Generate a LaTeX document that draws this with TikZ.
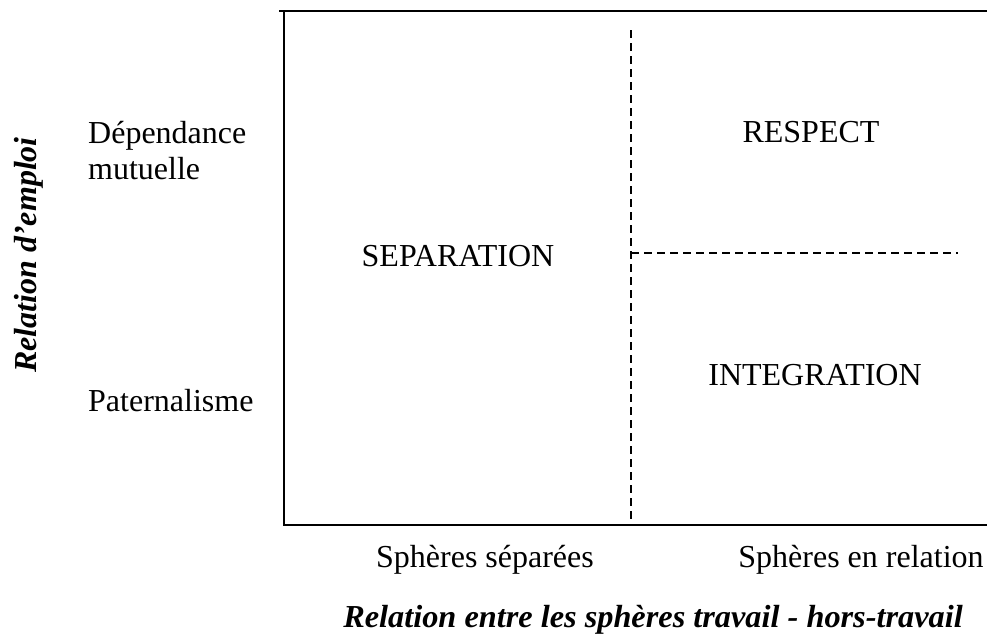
\documentclass[tikz,border=0pt]{standalone}
\usepackage{fontspec}
\setmainfont{Liberation Serif}
\begin{document}
\begin{tikzpicture}[x=1pt,y=-1pt,
  lab/.style={anchor=base,inner sep=0pt,font=\fontsize{32}{38}\selectfont},
  axis/.style={line width=2.2pt},
  divider/.style={line width=1.6pt,dash pattern=on 8pt off 5pt}]
\useasboundingbox (0,0) rectangle (987,633);
% frame
\coordinate (tl0) at (279,11);
\coordinate (tr) at (987,11);
\coordinate (tl) at (284,11);
\coordinate (bl) at (284,525);
\coordinate (br) at (987,525);
\coordinate (vt) at (631,30);
\coordinate (vb) at (631,525);
\coordinate (hm) at (631,253);
\coordinate (hr) at (958,253);
\draw[axis] (tl0) -- (tr);
\draw[axis] (tl) -- (bl) -- (br);
\draw[divider] (vt) -- (vb);
\draw[divider] (hm) -- (hr);
% quadrant labels
\node[lab] (sep) at (458,266) {SEPARATION};
\node[lab] (resp) at (811,142) {RESPECT};
\node[lab] (integ) at (815,385) {INTEGRATION};
% y-axis labels
\node[lab,anchor=base west] (dep) at (88,143) {Dépendance};
\node[lab,anchor=base west] (mut) at (88,179) {mutuelle};
\node[lab,anchor=base west] (pat) at (88,411) {Paternalisme};
\node[lab,anchor=base,rotate=90,font=\fontsize{32}{38}\selectfont\bfseries\itshape] (ylab) at (36,255) {Relation d’emploi};
% x-axis labels
\node[lab] (ss) at (485,567) {Sphères séparées};
\node[lab] (sr) at (861,567) {Sphères en relation};
\node[lab,font=\fontsize{32}{38}\selectfont\bfseries\itshape,xscale=1.01] (xlab) at (653,627) {Relation entre les sphères travail - hors-travail};
\end{tikzpicture}
\end{document}
